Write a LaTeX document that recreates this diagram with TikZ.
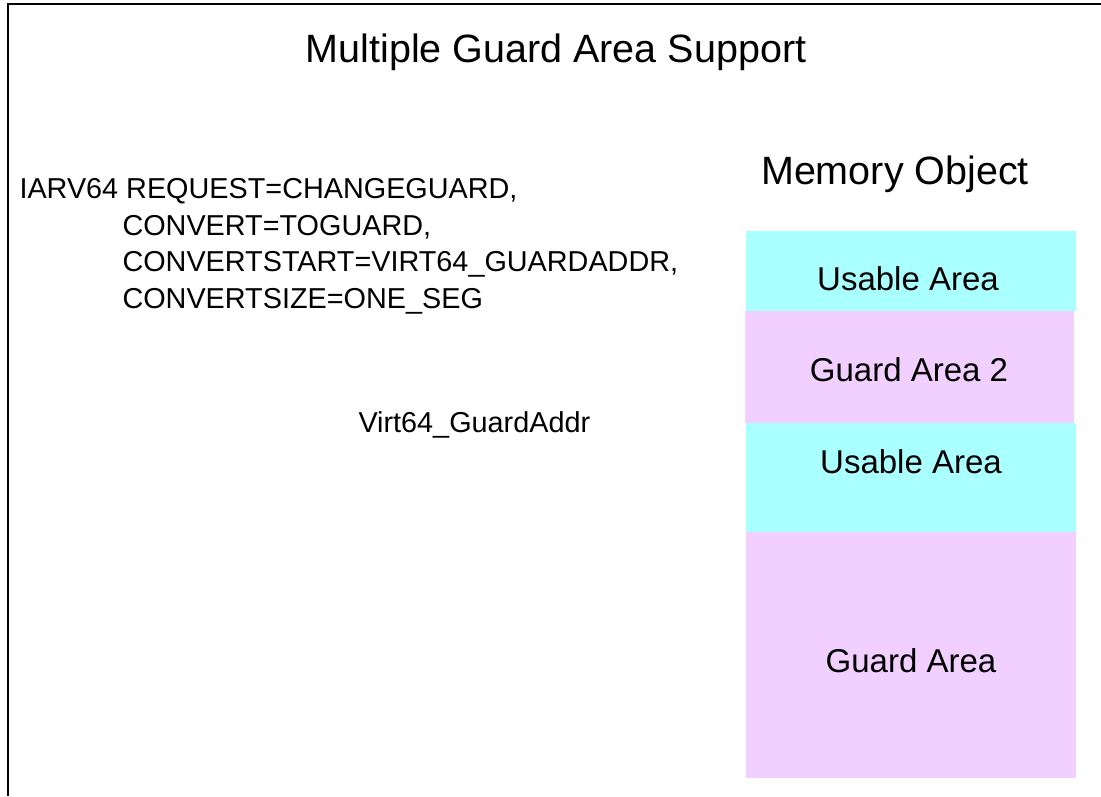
\documentclass[tikz,border=0pt]{standalone}
\usepackage{fontspec}
\setmainfont{Liberation Sans}
\usepackage{tikz}

\definecolor{usablecyan}{RGB}{170,255,255}
\definecolor{guardpink}{RGB}{241,207,254}

\tikzset{
  areatext/.style={anchor=base, font=\fontsize{33}{40}\selectfont},
  codetext/.style={anchor=base west, font=\fontsize{28.8}{34}\selectfont},
  bigtext/.style={anchor=base, font=\fontsize{39.5}{47}\selectfont}
}

\begin{document}
\begin{tikzpicture}[x=1pt,y=-1pt]
        \useasboundingbox (0,0) rectangle (1101,796);

        % Frame
        \draw [line width=2pt] (7.5,796) -- (7.5,4) -- (1101,4);

        % Title
        \node (title) [bigtext] at (556,62) {Multiple Guard Area Support};

        % Macro call
        \node (request) [codetext] at (16,198) {IARV64 REQUEST=CHANGEGUARD,};
        \node (convert) [codetext] at (119,235) {CONVERT=TOGUARD,};
        \node (convstart) [codetext] at (119,271) {CONVERTSTART=VIRT64\_GUARDADDR,};
        \node (convsize) [codetext] at (119,308) {CONVERTSIZE=ONE\_SEG};
        \node (guardaddr) [codetext] at (355,432) {Virt64\_GuardAddr};

        % Memory object
        \node (memobj) [bigtext] at (895,184) {Memory Object};
        \fill [usablecyan] (746,231) rectangle (1076,311);
        \fill [guardpink] (745,311) rectangle (1074,423);
        \fill [usablecyan] (746,423) rectangle (1076,532);
        \fill [guardpink] (746,532) rectangle (1076,778);
        \node (usable1) [areatext] at (908,290) {Usable Area};
        \node (guard2) [areatext] at (909,381) {Guard Area 2};
        \node (usable2) [areatext] at (911,473) {Usable Area};
        \node (guard1) [areatext] at (911,672) {Guard Area};
\end{tikzpicture}
\end{document}
